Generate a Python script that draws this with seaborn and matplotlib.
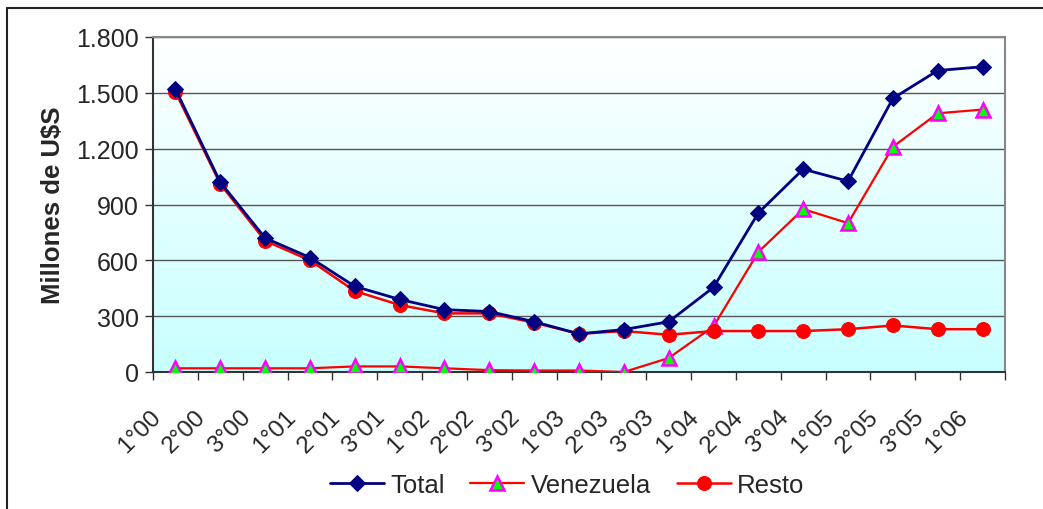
import matplotlib
matplotlib.use("Agg")
import matplotlib.pyplot as plt
import matplotlib.transforms as mtransforms
from matplotlib.colors import LinearSegmentedColormap
from matplotlib.lines import Line2D
import seaborn as sns
import numpy as np
import pandas as pd

# trimestres
trimestres = ['1°00', '2°00', '3°00', '1°01', '2°01', '3°01', '1°02', '2°02', '3°02',
              '1°03', '2°03', '3°03', '1°04', '2°04', '3°04', '1°05', '2°05', '3°05', '1°06']

# millones de U$S
total = [1520, 1020, 720, 615, 460, 390, 335, 325, 270, 205,
         228, 270, 455, 855, 1090, 1025, 1470, 1620, 1640]
venezuela = [20, 20, 20, 20, 30, 30, 20, 10, 8, 8,
             0, 75, 245, 645, 875, 800, 1210, 1390, 1410]
resto = [1505, 1010, 705, 600, 435, 360, 315, 315, 265, 205,
         220, 200, 220, 220, 220, 230, 250, 230, 230]

y_ticks = [0, 300, 600, 900, 1200, 1500, 1800]

df = pd.DataFrame({'pos': np.arange(len(trimestres)), 'Total': total,
                   'Venezuela': venezuela, 'Resto': resto})

sns.set_theme(style="white")
plt.rcParams['font.family'] = ['Liberation Sans', 'DejaVu Sans']

fig = plt.figure(figsize=(10.43, 5.10), dpi=100)
ax = fig.add_axes([153 / 1043, 137 / 510, 852 / 1043, 335 / 510])

# fondo degradado blanco -> celeste
cmap = LinearSegmentedColormap.from_list('fondo', ['#ffffff', '#c8ffff'])
ax.imshow(np.linspace(0, 1, 256).reshape(-1, 1), cmap=cmap, aspect='auto', origin='upper',
          extent=[-0.5, len(trimestres) - 0.5, 0, 1800], zorder=0)

sns.lineplot(data=df, x='pos', y='Total', ax=ax, color='#000080', lw=2, marker='D',
             markersize=8, markeredgecolor='#000080', label='Total', zorder=4)
sns.lineplot(data=df, x='pos', y='Venezuela', ax=ax, color='#ff0000', lw=1.6, marker='^',
             markersize=10, markerfacecolor='#00ff00', markeredgecolor='#ff00ff',
             markeredgewidth=1.8, label='Venezuela', zorder=3)
sns.lineplot(data=df, x='pos', y='Resto', ax=ax, color='#ff0000', lw=1.8, marker='o',
             markersize=10, markeredgecolor='#ff0000', label='Resto', zorder=3)

ax.set_xlim(-0.5, len(trimestres) - 0.5)
ax.set_ylim(0, 1800)
ax.set_yticks(y_ticks, [f"{v:,}".replace(',', '.') for v in y_ticks], fontsize=18)
ax.yaxis.grid(True, color='#555555', lw=1)
ax.set_axisbelow(True)

ax.set_xticks(np.arange(len(trimestres)), trimestres, rotation=45, ha='right', va='top', fontsize=17.5)
ax.set_xticks(np.arange(-0.5, len(trimestres)), minor=True)
ax.tick_params(axis='x', which='major', length=0, pad=24)
ax.tick_params(axis='x', which='minor', bottom=True, length=6, width=1, color='#333333', direction='out')
ax.tick_params(axis='y', left=True, length=6, width=1, color='#333333', direction='out', pad=4)
offset = mtransforms.ScaledTranslation(-10 / 100, 0, fig.dpi_scale_trans)
for lab in ax.get_xticklabels():
    lab.set_transform(lab.get_transform() + offset)

ax.set_xlabel('')
ax.set_ylabel('Millones de U$S', fontsize=18.5, fontweight='bold', labelpad=8)

for s in ['left', 'bottom']:
    ax.spines[s].set_color('#333333')
    ax.spines[s].set_linewidth(1.5)
for s in ['top', 'right']:
    ax.spines[s].set_color('#888888')
    ax.spines[s].set_linewidth(1.5)

handles, labels = ax.get_legend_handles_labels()
ax.get_legend().remove()
fig.legend(handles, labels, loc='center', bbox_to_anchor=(567 / 1043, 1 - 486 / 510), ncol=3,
           frameon=False, fontsize=18.5, handlelength=2.1, handletextpad=0.25, columnspacing=1.0)

# marco del gráfico
fig.add_artist(Line2D([7 / 1043, 7 / 1043], [0, 1 - 9 / 510], transform=fig.transFigure,
                      color='#222222', lw=1.5))
fig.add_artist(Line2D([7 / 1043, 1], [1 - 9 / 510, 1 - 9 / 510], transform=fig.transFigure,
                      color='#222222', lw=1.5))

fig.savefig('out.png', dpi=100)
